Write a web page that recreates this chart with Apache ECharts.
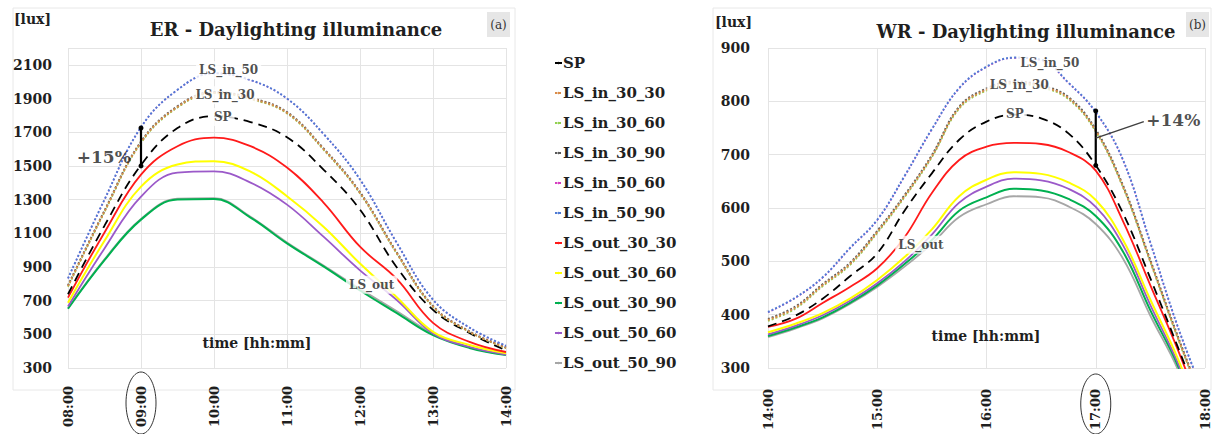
<!DOCTYPE html>
<html><head><meta charset="utf-8">
<script src="https://cdn.jsdelivr.net/npm/echarts@6/dist/echarts.min.js"></script>
<style>html,body{margin:0;padding:0;background:#fff}#c{width:1215px;height:434px}</style>
</head><body><div id="c"></div>
<script>
// ---------- DATA ----------
const seriesNames = ['SP','LS_in_30_30','LS_in_30_60','LS_in_30_90','LS_in_50_60','LS_in_50_90','LS_out_30_30','LS_out_30_60','LS_out_30_90','LS_out_50_60','LS_out_50_90'];
// ER (left) – hours
const leftTimes = [8, 8.5, 9, 9.5, 10, 10.5, 11, 11.5, 12, 12.5, 13, 13.5, 14];
const L_SP        = [738, 1145, 1505, 1725, 1795, 1760, 1670, 1478, 1240, 900, 645, 508, 405];
const L_in_30_30  = [786, 1230, 1640, 1850, 1935, 1900, 1815, 1600, 1340, 985, 665, 515, 420];
const L_in_30_60  = [782, 1226, 1636, 1846, 1931, 1896, 1811, 1596, 1336, 981, 662, 513, 418];
const L_in_30_90  = [790, 1234, 1644, 1854, 1939, 1904, 1819, 1604, 1344, 989, 668, 517, 422];
const L_in_50_60  = [831, 1299, 1729, 1951, 2049, 2009, 1899, 1689, 1419, 1045, 705, 539, 431];
const L_in_50_90  = [832, 1300, 1730, 1952, 2050, 2010, 1900, 1690, 1420, 1046, 706, 540, 432];
const L_out_30_30 = [718, 1105, 1448, 1617, 1668, 1617, 1490, 1282, 1020, 830, 568, 455, 395];
const L_out_30_60 = [688, 1055, 1377, 1508, 1528, 1466, 1320, 1139, 920, 722, 515, 437, 388];
const L_out_30_90 = [652, 940, 1181, 1300, 1303, 1193, 1040, 903, 760, 627, 495, 419, 377];
const L_out_50_60 = [665, 1010, 1318, 1460, 1468, 1401, 1270, 1080, 880, 705, 505, 425, 380];
const L_out_50_90 = [655, 945, 1185, 1305, 1308, 1198, 1045, 908, 770, 638, 505, 423, 379];
// WR (right) – hours
const rightTimes = [14, 14.25, 14.5, 14.75, 15, 15.25, 15.5, 15.75, 16, 16.25, 16.5, 16.75, 17, 17.25, 17.5, 17.75, 18];
const R_SP        = [378, 398, 430, 472, 515, 595, 665, 728, 762, 775, 768, 740, 680, 590, 468, 340, 208];
const R_in_30_30  = [390, 413, 455, 495, 555, 622, 697, 788, 822, 835, 828, 806, 745, 640, 500, 358, 225];
const R_in_30_60  = [388, 411, 453, 493, 553, 620, 695, 786, 820, 833, 826, 804, 743, 638, 498, 356, 223];
const R_in_30_90  = [392, 415, 457, 497, 557, 624, 699, 790, 824, 837, 830, 808, 747, 642, 502, 360, 227];
const R_in_50_60  = [404, 431, 469, 524, 577, 659, 747, 824, 864, 881, 877, 834, 779, 689, 534, 377, 244];
const R_in_50_90  = [405, 432, 470, 525, 578, 660, 748, 825, 865, 882, 878, 835, 780, 690, 535, 378, 245];
const R_out_30_30 = [377, 392, 422, 452, 487, 545, 628, 690, 715, 722, 720, 705, 670, 575, 455, 335, 200];
const R_out_30_60 = [367, 383, 403, 430, 465, 508, 560, 622, 653, 667, 664, 648, 615, 540, 428, 318, 185];
const R_out_30_90 = [360, 376, 395, 422, 455, 495, 540, 595, 620, 636, 633, 617, 585, 518, 408, 305, 172];
const R_out_50_60 = [363, 379, 399, 426, 459, 500, 550, 610, 640, 655, 652, 636, 602, 530, 418, 310, 178];
const R_out_50_90 = [358, 374, 393, 420, 452, 490, 533, 583, 607, 622, 620, 603, 570, 505, 398, 298, 165];
// in-plot labels [hour, lux, text]
const leftLabels  = [[10.2, 2068, 'LS_in_50'], [10.15, 1920, 'LS_in_30'], [10.12, 1790, 'SP'], [12.16, 794, 'LS_out']];
const rightLabels = [[16.58, 872, 'LS_in_50'], [16.30, 830, 'LS_in_30'], [16.26, 776, 'SP'], [15.40, 531, 'LS_out']];
const leftArrow  = [[9, 1500], [9, 1725]];
const rightArrow = [[17, 680], [17, 782]];
const rightLeader = [[17, 731], [17.44, 762]];
const leftPct  = [[8.49, 1550, '+15%']];
const rightPct = [[17.71, 765, '+14%']];
const yTicksLeft = [300, 2200, 200];   // min, max, step
const yTicksRight = [300, 900, 100];

// ---------- STYLE ----------
const styles = {
  'SP':           {color:'#000000', type:[9,6], width:1.8},
  'LS_in_30_30':  {color:'#d98c4a', type:[2,2], width:2},
  'LS_in_30_60':  {color:'#92d050', type:[2,2], width:1.6},
  'LS_in_30_90':  {color:'#595959', type:[2,2], width:2},
  'LS_in_50_60':  {color:'#d63fc0', type:[2,2], width:1.2},
  'LS_in_50_90':  {color:'#4f7bd4', type:[2,2], width:2},
  'LS_out_30_30': {color:'#ff1a1a', type:'solid', width:1.8},
  'LS_out_30_60': {color:'#ffff00', type:'solid', width:2},
  'LS_out_30_90': {color:'#00b050', type:'solid', width:2},
  'LS_out_50_60': {color:'#9b59c9', type:'solid', width:1.8},
  'LS_out_50_90': {color:'#a6a6a6', type:'solid', width:1.8}
};
const leftVals  = {'SP':L_SP,'LS_in_30_30':L_in_30_30,'LS_in_30_60':L_in_30_60,'LS_in_30_90':L_in_30_90,'LS_in_50_60':L_in_50_60,'LS_in_50_90':L_in_50_90,'LS_out_30_30':L_out_30_30,'LS_out_30_60':L_out_30_60,'LS_out_30_90':L_out_30_90,'LS_out_50_60':L_out_50_60,'LS_out_50_90':L_out_50_90};
const rightVals = {'SP':R_SP,'LS_in_30_30':R_in_30_30,'LS_in_30_60':R_in_30_60,'LS_in_30_90':R_in_30_90,'LS_in_50_60':R_in_50_60,'LS_in_50_90':R_in_50_90,'LS_out_30_30':R_out_30_30,'LS_out_30_60':R_out_30_60,'LS_out_30_90':R_out_30_90,'LS_out_50_60':R_out_50_60,'LS_out_50_90':R_out_50_90};
const drawOrder = ['LS_out_50_90','LS_out_30_90','LS_out_50_60','LS_out_30_60','LS_out_30_30','SP','LS_in_30_60','LS_in_30_90','LS_in_30_30','LS_in_50_60','LS_in_50_90'];

const FONT = 'DejaVu Serif';
const TXT = '#1f1f1f';
const series = [];
function addPanel(idx, times, vals){
  drawOrder.forEach(n => {
    const s = styles[n];
    series.push({
      name:n, type:'line', xAxisIndex:idx, yAxisIndex:idx,
      data: times.map((t,i)=>[t, vals[n][i]]),
      smooth:0.4, symbol:'none', clip:true,
      lineStyle:{color:s.color, type:s.type, width:s.width},
      itemStyle:{color:s.color}, z:2
    });
  });
}
addPanel(0, leftTimes, leftVals);
addPanel(1, rightTimes, rightVals);

function labelSeries(idx, data, size, bg){
  return {type:'scatter', xAxisIndex:idx, yAxisIndex:idx, data:data, symbolSize:0, z:10, silent:true,
    label:{show:true, position:'inside', formatter:p=>p.value[2], fontFamily:FONT, fontWeight:'bold', fontSize:size, color:TXT,
      backgroundColor:bg ? '#ffffff' : 'transparent', padding:bg ? [3,3] : 0}};
}
series.push(labelSeries(0, leftLabels, 12, true));
series.push(labelSeries(1, rightLabels, 12, true));
series.push(labelSeries(0, leftPct, 17, false));
series.push(labelSeries(1, rightPct, 17, false));
function arrowSeries(idx, data){
  return {type:'line', xAxisIndex:idx, yAxisIndex:idx, data:data, symbol:'circle', symbolSize:5, showSymbol:true, z:11, silent:true,
    lineStyle:{color:'#000', width:2.2}, itemStyle:{color:'#000'}};
}
series.push(arrowSeries(0, leftArrow));
series.push(arrowSeries(1, rightArrow));
series.push({type:'line', xAxisIndex:1, yAxisIndex:1, data:rightLeader, symbol:'none', z:11, silent:true, lineStyle:{color:'#404040', width:1.5}});

const hh = v => (v<10?'0':'') + v + ':00';
const axisLabelY = {fontFamily:FONT, fontWeight:'bold', fontSize:14, color:TXT, formatter: v => String(v)};
const axisLabelX = {rotate:90, formatter:hh, fontFamily:FONT, fontWeight:'bold', fontSize:13, color:TXT};
const splitL = {show:true, lineStyle:{color:'#e4e4e4', width:1}};

const chart = echarts.init(document.getElementById('c'), null, {renderer:'svg'});
chart.setOption({
  animation:false,
  backgroundColor:'#ffffff',
  grid:[{left:68, right:709, top:48, bottom:66}, {left:768, right:10, top:48, bottom:66}],
  xAxis:[
    {type:'value', gridIndex:0, min:8, max:14, interval:1, axisLine:{show:false}, axisTick:{show:false}, splitLine:splitL,
      axisLabel:Object.assign({margin:18}, axisLabelX)},
    {type:'value', gridIndex:1, min:14, max:18, interval:1, axisLine:{show:false}, axisTick:{show:false}, splitLine:splitL,
      axisLabel:Object.assign({margin:21}, axisLabelX)}
  ],
  yAxis:[
    {type:'value', gridIndex:0, min:yTicksLeft[0], max:yTicksLeft[1], interval:yTicksLeft[2], axisLine:{show:false}, axisTick:{show:false}, splitLine:splitL,
      axisLabel:Object.assign({margin:16, showMaxLabel:false}, axisLabelY)},
    {type:'value', gridIndex:1, min:yTicksRight[0], max:yTicksRight[1], interval:yTicksRight[2], axisLine:{show:false}, axisTick:{show:false}, splitLine:splitL,
      axisLabel:Object.assign({margin:18}, axisLabelY)}
  ],
  legend:{
    orient:'vertical', left:549, top:49, itemWidth:7, itemHeight:3, itemGap:12,
    data:seriesNames, selectedMode:false,
    textStyle:{fontFamily:FONT, fontWeight:'bold', fontSize:15, color:TXT, lineHeight:18, padding:[0,0,0,-4]}
  },
  series:series
});

// decorations placed via axis conversion
const x9 = chart.convertToPixel({xAxisIndex:0}, 9);
const x17 = chart.convertToPixel({xAxisIndex:1}, 17);
const tstyle = (t, x, y, size, align) => ({type:'text', x:x, y:y, style:{text:t, fontFamily:FONT, fontWeight:'bold', fontSize:size, fill:TXT, align:align||'left', verticalAlign:'middle'}});
chart.setOption({
  graphic:[
    {type:'rect', shape:{x:13, y:8, width:502, height:382}, style:{fill:'none', stroke:'#e8e8e8', lineWidth:1}, z:-1},
    {type:'rect', shape:{x:713, y:8, width:498, height:382}, style:{fill:'none', stroke:'#e8e8e8', lineWidth:1}, z:-1},
    {type:'rect', shape:{x:487, y:12, width:23, height:25}, style:{fill:'#e6e6e6'}},
    {type:'text', x:498.5, y:24.5, style:{text:'(a)', fontFamily:FONT, fontSize:12, fill:'#333', align:'center', verticalAlign:'middle'}},
    {type:'rect', shape:{x:1186, y:12, width:23, height:25}, style:{fill:'#e6e6e6'}},
    {type:'text', x:1197.5, y:24.5, style:{text:'(b)', fontFamily:FONT, fontSize:12, fill:'#333', align:'center', verticalAlign:'middle'}},
    tstyle('[lux]', 14, 19, 14),
    tstyle('[lux]', 715, 22, 14),
    tstyle('ER - Daylighting illuminance', 296, 29, 18, 'center'),
    tstyle('WR - Daylighting illuminance', 1026, 31, 18, 'center'),
    tstyle('time [hh:mm]', 257, 343, 14, 'center'),
    tstyle('time [hh:mm]', 986, 336, 14, 'center'),
    {type:'ellipse', shape:{cx:x9, cy:403, rx:15, ry:31}, style:{fill:'none', stroke:'#333', lineWidth:1}},
    {type:'ellipse', shape:{cx:x17, cy:404, rx:15, ry:30}, style:{fill:'none', stroke:'#333', lineWidth:1}}
  ]
});
</script></body></html>
